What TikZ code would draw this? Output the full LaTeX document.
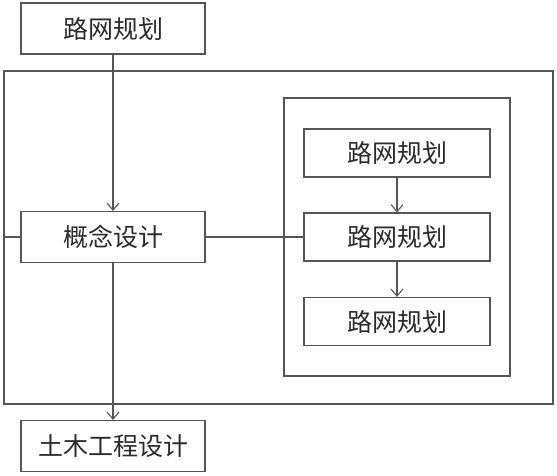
\documentclass[tikz,border=0pt]{standalone}
\usepackage{fontspec}
\newfontfamily\cjk{Noto Sans CJK SC}
\usetikzlibrary{arrows.meta}
\definecolor{linegray}{HTML}{555555}
\definecolor{textgray}{HTML}{2a2a2a}

\begin{document}
\begin{tikzpicture}[x=1pt,y=-1pt,line width=1.2pt,draw=linegray,
blk/.style={draw=linegray,rectangle,minimum width=184pt,minimum height=51pt,inner sep=0pt,font=\cjk\fontsize{25}{28}\selectfont,text=textgray},
sub/.style={blk,minimum width=186pt,minimum height=48pt},
frm/.style={draw=linegray,rectangle,inner sep=0pt},
arr/.style={draw=linegray,-{Straight Barb[length=7pt,width=12pt,line width=1.1pt]}}]
\useasboundingbox (0,0) rectangle (557,476);
\node[frm,minimum width=549pt,minimum height=333pt] (outer) at (278.5,237.5) {};
\node[frm,minimum width=226pt,minimum height=278pt] (inner) at (397,237) {};
\node[blk] (plan) at (113,28.5) {路网规划};
\node[blk] (concept) at (113,237) {概念设计};
\node[blk] (civil) at (113,446) {土木工程设计};
\foreach \n/\y in %
{a/153,b/237,c/321.5} {
   \node[sub] (\n) at (397,\y) {路网规划};
}
\draw[arr] (plan) -- (concept);
\draw[arr] (concept) -- (civil);
\draw[arr] (a) -- (b);
\draw[arr] (b) -- (c);
\draw[linegray] (outer.west |- concept.west) -- (concept.west);
\draw[linegray] (concept.east) -- (b.west);
\end{tikzpicture}
\end{document}
